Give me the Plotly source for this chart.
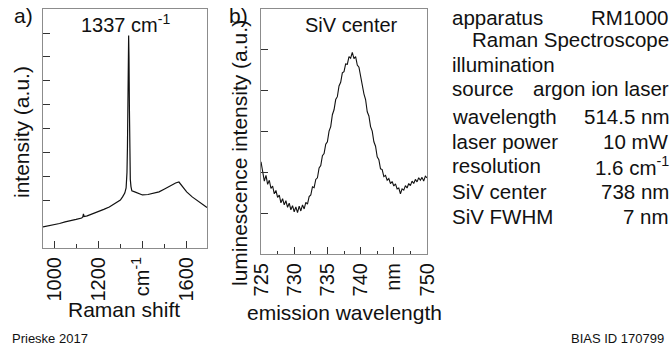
import plotly.graph_objects as go

# ---- data (arbitrary intensity units) ----
raman_shift = [950, 975, 1000, 1025, 1050, 1075, 1100, 1125, 1130, 1133, 1136, 1150, 1175,
               1200, 1225, 1250, 1275, 1300, 1310, 1320, 1326, 1330, 1332, 1334, 1336,
               1337.5, 1339, 1341, 1343, 1345, 1348, 1352, 1365, 1380, 1400, 1425, 1450,
               1475, 1500, 1525, 1550, 1565, 1580, 1600, 1625, 1650, 1675, 1692]
raman_intensity = [-0.08, -0.04, 0.00, 0.06, 0.13, 0.17, 0.23, 0.29, 0.33, 0.46, 0.35, 0.38, 0.46,
                   0.54, 0.65, 0.75, 0.88, 1.04, 1.17, 1.33, 1.54, 2.2, 3.2, 5.0, 7.3,
                   7.9, 7.0, 4.8, 2.8, 1.9, 1.6, 1.42, 1.38, 1.33, 1.25, 1.27, 1.31,
                   1.38, 1.50, 1.63, 1.75, 1.79, 1.63, 1.38, 1.17, 1.00, 0.83, 0.73]

wavelength_nm = [725.00, 725.25, 725.50, 725.75, 726.00, 726.25, 726.50, 726.75, 727.00, 727.25,
                 727.50, 727.75, 728.00, 728.25, 728.50, 728.75, 729.00, 729.25, 729.50, 729.75,
                 730.00, 730.25, 730.50, 730.75, 731.00, 731.25, 731.50, 731.75, 732.00, 732.25,
                 732.50, 732.75, 733.00, 733.25, 733.50, 733.75, 734.00, 734.25, 734.50, 734.75,
                 735.00, 735.25, 735.50, 735.75, 736.00, 736.25, 736.50, 736.75, 737.00, 737.25,
                 737.50, 737.75, 738.00, 738.25, 738.50, 738.75, 739.00, 739.25, 739.50, 739.75,
                 740.00, 740.25, 740.50, 740.75, 741.00, 741.25, 741.50, 741.75, 742.00, 742.25,
                 742.50, 742.75, 743.00, 743.25, 743.50, 743.75, 744.00, 744.25, 744.50, 744.75,
                 745.00, 745.25, 745.50, 745.75, 746.00, 746.25, 746.50, 746.75, 747.00, 747.25,
                 747.50, 747.75, 748.00, 748.25, 748.50, 748.75, 749.00, 749.25, 749.50, 749.75,
                 750.00]
lum_intensity = [2.25, 2.02, 1.78, 1.92, 1.70, 1.80, 1.60, 1.66, 1.47, 1.55,
                 1.38, 1.44, 1.25, 1.35, 1.20, 1.30, 1.14, 1.24, 1.08, 1.18,
                 1.03, 1.15, 1.01, 1.17, 1.05, 1.20, 1.10, 1.26, 1.22, 1.40,
                 1.44, 1.64, 1.62, 1.82, 1.86, 2.10, 2.16, 2.40, 2.45, 2.68,
                 2.74, 3.00, 3.11, 3.40, 3.52, 3.77, 3.84, 4.10, 4.19, 4.42,
                 4.45, 4.64, 4.63, 4.82, 4.78, 4.92, 4.77, 4.82, 4.61, 4.56,
                 4.33, 4.20, 3.91, 3.77, 3.47, 3.37, 3.11, 3.00, 2.74, 2.63,
                 2.37, 2.30, 2.08, 2.06, 1.89, 1.92, 1.80, 1.84, 1.72, 1.77,
                 1.66, 1.71, 1.59, 1.61, 1.47, 1.59, 1.56, 1.67, 1.61, 1.72,
                 1.67, 1.78, 1.72, 1.82, 1.76, 1.86, 1.80, 1.87, 1.78, 1.90,
                 1.86]

raman_ticks = [1000, 1200, 1400, 1600]
raman_ticklabels = ["1000", "1200", "cm<sup>-1</sup>", "1600"]
raman_minor = [1100, 1300, 1500]
raman_yticks = [1, 2, 3, 4, 5, 6, 7, 8]

wl_ticks = [725, 730, 735, 740, 745, 750]
wl_ticklabels = ["725", "730", "735", "740", "nm", "750"]
wl_minor = [727.5, 732.5, 737.5, 742.5, 747.5]
lum_yticks = [1, 2, 3, 4, 5]

info_labels = ["apparatus", "", "illumination", "source", "wavelength", "laser power",
               "resolution", "SiV center", "SiV FWHM"]
info_values = ["RM1000", "Raman Spectroscope", "", "argon ion laser", "514.5 nm", "10 mW",
               "1.6 cm<sup>-1</sup>", "738 nm", "7 nm"]
info_rows_px = [17, 39, 65, 89, 116, 141, 166, 191, 216]

W, H = 670, 349
FONT = "Liberation Sans, Arial, sans-serif"
FRAME = "#8c8c8c"
TICK = "#333333"

def px(x):
    return x / W

def py(y):
    return 1 - y / H

fig = go.Figure()
fig.add_trace(go.Scatter(x=raman_shift, y=raman_intensity, mode="lines",
                         line=dict(color="#111111", width=1.2), xaxis="x", yaxis="y",
                         showlegend=False))
fig.add_trace(go.Scatter(x=wavelength_nm, y=lum_intensity, mode="lines",
                         line=dict(color="#111111", width=1.1), xaxis="x2", yaxis="y2",
                         showlegend=False))

common_x = dict(showline=True, mirror=True, linecolor=FRAME, linewidth=1, showgrid=False,
                zeroline=False, ticks="inside", ticklen=7, tickcolor=TICK, tickwidth=1,
                tickangle=-90, tickfont=dict(family=FONT, size=20, color="#111111"),
                tickmode="array", automargin=False)
common_y = dict(showline=True, mirror=True, linecolor=FRAME, linewidth=1, showgrid=False,
                zeroline=False, ticks="inside", ticklen=7, tickcolor=TICK, tickwidth=1,
                showticklabels=False, tickmode="array", automargin=False)

fig.update_layout(
    width=W, height=H, margin=dict(l=0, r=0, t=0, b=0, pad=0, autoexpand=False),
    showlegend=False,
    paper_bgcolor="white", plot_bgcolor="white",
    font=dict(family=FONT, color="#111111"),
    xaxis=dict(domain=[px(43), px(207)], range=[950, 1692], anchor="y",
               tickvals=raman_ticks, ticktext=raman_ticklabels,
               minor=dict(tickmode="array", tickvals=raman_minor, ticks="inside",
                          ticklen=4, tickcolor=TICK),
               **common_x),
    yaxis=dict(domain=[py(248), py(9)], range=[-0.96, 9.0], anchor="x",
               tickvals=raman_yticks, **common_y),
    xaxis2=dict(domain=[px(261), px(427)], range=[725, 750], anchor="y2",
                tickvals=wl_ticks, ticktext=wl_ticklabels,
                minor=dict(tickmode="array", tickvals=wl_minor, ticks="inside",
                           ticklen=3, tickcolor=TICK),
                **common_x),
    yaxis2=dict(domain=[py(254), py(9)], range=[0, 5.98], anchor="x2",
                tickvals=lum_yticks, **common_y),
)

def txt(text, x, y, size=20, xanchor="center", yanchor="middle", angle=0):
    fig.add_annotation(text=text, x=px(x), y=py(y), xref="paper", yref="paper",
                       showarrow=False, xanchor=xanchor, yanchor=yanchor, textangle=angle,
                       borderpad=0, borderwidth=0,
                       font=dict(family=FONT, size=size, color="#111111"))

# panel labels and titles
txt("a)", 23, 15, size=21)
txt("b)", 238, 15, size=21)
txt("1337 cm<sup>-1</sup>", 125, 24, size=20)
txt("SiV center", 351, 25, size=20)
txt("intensity (a.u.)", 21, 132, size=21, angle=-90)
txt("Raman shift", 124, 309, size=21)
txt("luminescence intensity (a.u.)", 239, 153, size=21, angle=-90)
txt("emission wavelength", 344, 312, size=21)

# info block
for lab, val, yrow in zip(info_labels, info_values, info_rows_px):
    if lab:
        txt(lab, 452, yrow, size=20.5, xanchor="left")
    if val:
        txt(val, 669, yrow, size=20.5, xanchor="right")

txt("Prieske 2017", 12, 338, size=13, xanchor="left")
txt("BIAS ID 170799", 664, 338, size=13, xanchor="right")

fig.write_html("out.html")
